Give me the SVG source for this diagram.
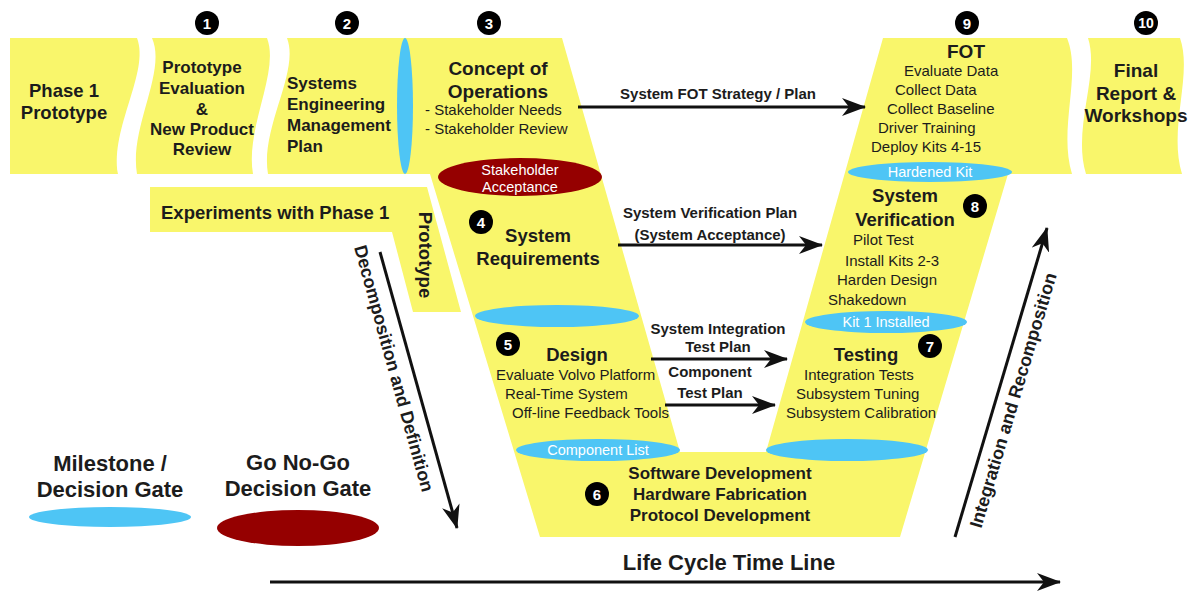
<svg xmlns="http://www.w3.org/2000/svg" width="1190" height="594" viewBox="0 0 1190 594">
<defs>
<style>
.y{fill:#F9F66B}
.bl{fill:#4EC5F5}
.rd{fill:#950000}
text{font-family:"Liberation Sans",Arial,Helvetica,sans-serif;fill:#1c1c1c}
.h{font-weight:bold;font-size:18.5px}
.h17{font-weight:bold;font-size:17px}
.b{font-size:15px}
.al{font-weight:bold;font-size:15px}
.w{font-size:14.5px;fill:#ffffff}
.lg{font-weight:bold;font-size:22px}
.c{text-anchor:middle}
.num{font-weight:bold;font-size:15px;fill:#ffffff;text-anchor:middle}
.ln{stroke:#111;stroke-width:3;fill:none}
</style>
<marker id="ah" viewBox="0 0 24 18" refX="23" refY="9" markerWidth="24" markerHeight="18" markerUnits="userSpaceOnUse" orient="auto">
<path d="M0,0 L24,9 L0,18 L7,9 z" fill="#111"/>
</marker>
</defs>
<rect width="1190" height="594" fill="#ffffff"/>

<g id="backgrounds">
<path class="y" d="M10,38 L137,38 C150,72 110,128 118,174 L10,174 Z"/>
<path class="y" d="M152,38 L267,38 C280,72 245,128 253,174 L137,174 C129,128 167,72 152,38 Z"/>
<path class="y" d="M287,38 L562,38 L680,452 L766,452 L883,38 L1067,38 C1082,75 1058,128 1072,174 L1008,174 L900,537 L540,537 L430,174 L268,174 C260,128 300,72 287,38 Z"/>
<path class="y" d="M1088,38 L1180,38 C1193,75 1168,128 1182,174 L1086,174 C1072,128 1100,75 1088,38 Z"/>
<path class="y" d="M150,187 L427,187 L461,312 L413,312 L392,232 L150,232 Z"/>
</g>

<g id="markers-num">
<circle cx="207" cy="23" r="12" fill="#000"/><text x="207" y="28.5" class="num">1</text>
<circle cx="347" cy="23" r="12" fill="#000"/><text x="347" y="28.5" class="num">2</text>
<circle cx="489" cy="23" r="12" fill="#000"/><text x="489" y="28.5" class="num">3</text>
<circle cx="967" cy="23" r="12" fill="#000"/><text x="967" y="28.5" class="num">9</text>
<circle cx="1146" cy="23" r="12" fill="#000"/><text x="1146" y="28" class="num" style="font-size:14px">10</text>
</g>

<g id="node-phase1">
<text x="64" y="97" class="h c">Phase 1</text>
<text x="64" y="119" class="h c">Prototype</text>
</g>

<g id="node-prototype-eval">
<text x="202" y="73" class="h17 c">Prototype</text>
<text x="202" y="94" class="h17 c">Evaluation</text>
<text x="202" y="115" class="h17 c">&amp;</text>
<text x="202" y="135" class="h17 c">New Product</text>
<text x="202" y="155" class="h17 c">Review</text>
</g>

<g id="node-semp">
<text x="287" y="89" class="h17">Systems</text>
<text x="287" y="110" class="h17">Engineering</text>
<text x="287" y="131" class="h17">Management</text>
<text x="287" y="152" class="h17">Plan</text>
<ellipse cx="405" cy="106" rx="8" ry="68" class="bl"/>
</g>

<g id="node-conops">
<text x="498" y="75" class="h c" style="font-size:19px">Concept of</text>
<text x="498" y="98" class="h c" style="font-size:19px">Operations</text>
<text x="425" y="115" class="b">- Stakeholder Needs</text>
<text x="425" y="134" class="b">- Stakeholder Review</text>
<ellipse cx="520" cy="177" rx="82" ry="19" class="rd"/>
<text x="520" y="175" class="w c">Stakeholder</text>
<text x="520" y="192" class="w c">Acceptance</text>
</g>

<g id="node-experiments">
<text x="161" y="219" class="h">Experiments with Phase 1</text>
<text transform="translate(419,255) rotate(90)" class="h c">Prototype</text>
</g>

<g id="node-requirements">
<circle cx="481" cy="222" r="12" fill="#000"/><text x="481" y="227.5" class="num">4</text>
<text x="538" y="242" class="h c">System</text>
<text x="538" y="265" class="h c">Requirements</text>
<ellipse cx="557" cy="316" rx="82" ry="11" class="bl"/>
</g>

<g id="node-design">
<circle cx="508" cy="344" r="12" fill="#000"/><text x="508" y="349.5" class="num">5</text>
<text x="577" y="361" class="h c">Design</text>
<text x="496" y="380" class="b">Evaluate Volvo Platform</text>
<text x="505" y="399" class="b">Real-Time System</text>
<text x="512" y="418" class="b">Off-line Feedback Tools</text>
<ellipse cx="598" cy="450" rx="82" ry="11" class="bl"/>
<text x="598" y="455" class="w c">Component List</text>
</g>

<g id="node-development">
<circle cx="597" cy="494" r="12" fill="#000"/><text x="597" y="499.5" class="num">6</text>
<text x="720" y="479" class="h17 c">Software Development</text>
<text x="720" y="500" class="h17 c">Hardware Fabrication</text>
<text x="720" y="521" class="h17 c">Protocol Development</text>
</g>

<g id="node-testing">
<circle cx="930" cy="346" r="12" fill="#000"/><text x="930" y="351.5" class="num">7</text>
<text x="866" y="361" class="h c">Testing</text>
<text x="804" y="380" class="b">Integration Tests</text>
<text x="796" y="399" class="b">Subsystem Tuning</text>
<text x="786" y="418" class="b">Subsystem Calibration</text>
<ellipse cx="847" cy="450" rx="81" ry="11" class="bl"/>
</g>

<g id="node-verification">
<circle cx="975" cy="206" r="12" fill="#000"/><text x="975" y="211.5" class="num">8</text>
<text x="905" y="202" class="h c">System</text>
<text x="905" y="226" class="h c">Verification</text>
<text x="853" y="245" class="b">Pilot Test</text>
<text x="845" y="266" class="b">Install Kits 2-3</text>
<text x="837" y="285" class="b">Harden Design</text>
<text x="828" y="305" class="b">Shakedown</text>
<ellipse cx="886" cy="322" rx="81" ry="11" class="bl"/>
<text x="886" y="327" class="w c">Kit 1 Installed</text>
</g>

<g id="node-fot">
<text x="966" y="58" class="h c" style="font-size:19px">FOT</text>
<text x="904" y="76" class="b">Evaluate Data</text>
<text x="895" y="95" class="b">Collect Data</text>
<text x="887" y="114" class="b">Collect Baseline</text>
<text x="878" y="133" class="b">Driver Training</text>
<text x="871" y="152" class="b">Deploy Kits 4-15</text>
<ellipse cx="930" cy="172" rx="82" ry="10" class="bl"/>
<text x="930" y="177" class="w c">Hardened Kit</text>
</g>

<g id="node-final">
<text x="1136" y="77" class="h c" style="font-size:19px">Final</text>
<text x="1136" y="100" class="h c" style="font-size:19px">Report &amp;</text>
<text x="1136" y="122" class="h c" style="font-size:19px">Workshops</text>
</g>

<g id="legend">
<text x="110" y="471" class="lg c">Milestone /</text>
<text x="110" y="497" class="lg c">Decision Gate</text>
<ellipse cx="110" cy="517" rx="81" ry="10" class="bl"/>
<text x="298" y="470" class="lg c">Go No-Go</text>
<text x="298" y="496" class="lg c">Decision Gate</text>
<ellipse cx="298" cy="528" rx="81" ry="18" class="rd"/>
</g>

<g id="connectors">
<line x1="578" y1="107" x2="865" y2="107" class="ln" marker-end="url(#ah)"/>
<text x="718" y="99" class="al c">System FOT Strategy / Plan</text>
<line x1="618" y1="245" x2="822" y2="245" class="ln" marker-end="url(#ah)"/>
<text x="710" y="218" class="al c">System Verification Plan</text>
<text x="710" y="240" class="al c">(System Acceptance)</text>
<line x1="651" y1="359" x2="787" y2="359" class="ln" marker-end="url(#ah)"/>
<text x="718" y="334" class="al c">System Integration</text>
<text x="718" y="352" class="al c">Test Plan</text>
<line x1="665" y1="405" x2="775" y2="405" class="ln" marker-end="url(#ah)"/>
<text x="710" y="377" class="al c">Component</text>
<text x="710" y="398" class="al c">Test Plan</text>
<line x1="380" y1="252" x2="457" y2="528" class="ln" marker-end="url(#ah)"/>
<text transform="translate(388,370) rotate(74.5)" class="h c" style="font-size:18px">Decomposition and Definition</text>
<line x1="955" y1="537" x2="1047" y2="228" class="ln" marker-end="url(#ah)"/>
<text transform="translate(1019,402) rotate(-73.4)" class="h c" style="font-size:18px">Integration and Recomposition</text>
<line x1="270" y1="582" x2="1060" y2="582" class="ln" marker-end="url(#ah)"/>
<text x="729" y="570" class="lg c">Life Cycle Time Line</text>
</g>
</svg>
